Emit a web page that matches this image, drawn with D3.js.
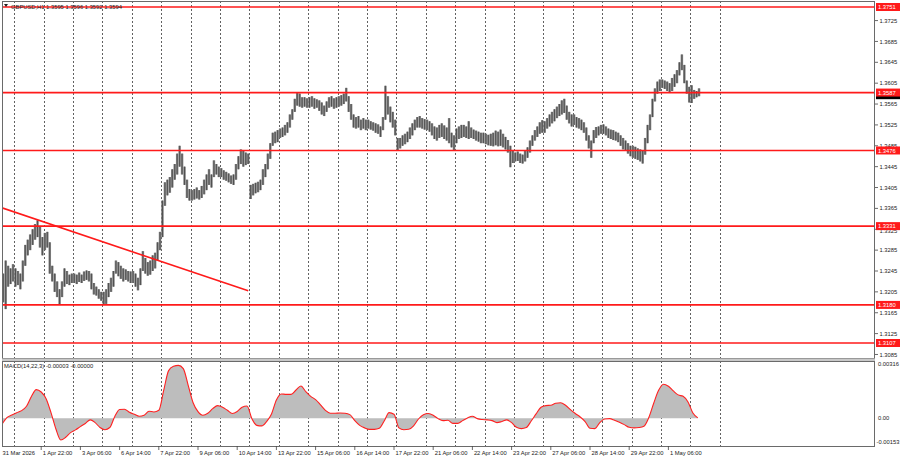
<!DOCTYPE html>
<html><head><meta charset="utf-8">
<script src="https://cdn.jsdelivr.net/npm/d3@7"></script>
<style>
html,body{margin:0;padding:0;background:#fff;}
svg{display:block;}
text{font-family:"Liberation Sans",Arial,sans-serif;}
</style>
</head><body>
<svg id="c" width="900" height="460"></svg>
<script>
// ---------- DATA ----------
const symbolTitle = "GBPUSD,H1  1.3595 1.3596 1.3592 1.3594";
const macdTitle = "MACD(14,22,3) -0.00003 -0.00000";
const levelPrices = [1.3751, 1.3587, 1.3476, 1.3331, 1.3180, 1.3107];
const priceTicks = [1.3725,1.3685,1.3645,1.3605,1.3565,1.3525,1.3485,1.3445,1.3405,1.3365,1.3325,1.3285,1.3245,1.3205,1.3165,1.3125,1.3085];
const macdTicks = [0.00316, 0.00, -0.00153];
const macdTickLabels = ["0.00316", "0.00", "-0.00153"];
const timeLabels = ["31 Mar 2026","1 Apr 22:00","3 Apr 06:00","6 Apr 14:00","7 Apr 22:00","9 Apr 06:00","10 Apr 14:00","13 Apr 22:00","15 Apr 06:00","16 Apr 14:00","17 Apr 22:00","21 Apr 06:00","22 Apr 14:00","23 Apr 22:00","27 Apr 06:00","28 Apr 14:00","29 Apr 22:00","1 May 06:00"];
const trendStart = [0, 1.3366];   // [trading hour, price]
const trendEnd = [201, 1.3207];
const lastPrice = 1.3582;

// 2-hour bars from 31 Mar 14:00 (lows / highs)
const lowPrices = [
 1.3185,1.3172,1.3215,1.3220,1.3225,
 1.3215,1.3218,1.3210,1.3225,1.3255,1.3275,1.3285,1.3295,1.3305,1.3310,1.3290,1.3275,
 1.3285,1.3290,1.3240,1.3225,1.3205,1.3195,1.3180,1.3195,1.3215,1.3220,1.3218,1.3222,
 1.3222,1.3220,1.3224,1.3222,1.3226,1.3228,1.3225,1.3210,1.3200,1.3198,1.3192,1.3188,
 1.3180,1.3182,1.3195,1.3205,1.3215,1.3240,1.3235,1.3230,1.3225,1.3228,1.3225,1.3222,
 1.3222,1.3215,1.3208,1.3218,1.3245,1.3240,1.3236,1.3238,1.3245,1.3250,1.3265,1.3285,
 1.3310,1.3370,1.3390,1.3395,1.3405,1.3420,1.3430,1.3445,1.3430,1.3410,1.3385,1.3380,
 1.3380,1.3382,1.3384,1.3382,1.3385,1.3392,1.3400,1.3410,1.3405,1.3425,1.3430,1.3425,
 1.3425,1.3420,1.3418,1.3415,1.3412,1.3410,1.3420,1.3440,1.3450,1.3445,1.3448,1.3450,
 1.3383,1.3390,1.3394,1.3396,1.3400,1.3410,1.3425,1.3440,1.3460,1.3485,1.3490,1.3492,
 1.3500,1.3502,1.3505,1.3510,1.3520,1.3535,1.3550,1.3562,1.3560,1.3558,1.3560,1.3558,
 1.3558,1.3560,1.3556,1.3558,1.3552,1.3545,1.3542,1.3550,1.3558,1.3560,1.3556,1.3558,
 1.3560,1.3562,1.3565,1.3570,1.3550,1.3535,1.3520,1.3518,1.3520,1.3515,1.3518,1.3515,
 1.3518,1.3516,1.3514,1.3510,1.3508,1.3502,1.3515,1.3535,1.3545,1.3530,1.3520,1.3505,
 1.3476,1.3480,1.3485,1.3488,1.3492,1.3498,1.3505,1.3515,1.3520,1.3520,1.3518,1.3516,
 1.3515,1.3512,1.3505,1.3498,1.3495,1.3500,1.3502,1.3498,1.3495,1.3490,1.3482,1.3476,
 1.3490,1.3498,1.3500,1.3502,1.3500,1.3498,1.3500,1.3498,1.3495,1.3493,1.3490,1.3490,
 1.3488,1.3486,1.3485,1.3484,1.3486,1.3484,1.3485,1.3482,1.3478,1.3472,1.3444,1.3452,
 1.3455,1.3456,1.3452,1.3451,1.3455,1.3462,1.3472,1.3485,1.3495,1.3502,1.3508,1.3510,
 1.3510,1.3518,1.3522,1.3528,1.3532,1.3538,1.3542,1.3545,1.3548,1.3535,1.3528,1.3522,
 1.3525,1.3520,1.3518,1.3515,1.3510,1.3495,1.3480,1.3462,1.3490,1.3500,1.3505,1.3508,
 1.3508,1.3505,1.3500,1.3498,1.3496,1.3495,1.3492,1.3485,1.3478,1.3475,1.3470,1.3465,
 1.3462,1.3460,1.3458,1.3455,1.3451,1.3468,1.3490,1.3515,1.3540,1.3570,1.3585,1.3590,
 1.3596,1.3594,1.3590,1.3588,1.3590,1.3598,1.3605,1.3620,1.3630,1.3605,1.3585,1.3568,
 1.3567,1.3575,1.3578,1.3580
];
const highPrices = [
 1.3240,1.3265,1.3255,1.3250,1.3258,
 1.3250,1.3245,1.3240,1.3265,1.3295,1.3305,1.3315,1.3325,1.3335,1.3342,1.3330,1.3310,
 1.3318,1.3320,1.3300,1.3255,1.3240,1.3225,1.3210,1.3225,1.3250,1.3245,1.3238,1.3240,
 1.3240,1.3238,1.3242,1.3238,1.3244,1.3246,1.3245,1.3240,1.3222,1.3215,1.3210,1.3205,
 1.3205,1.3210,1.3222,1.3232,1.3245,1.3265,1.3262,1.3255,1.3250,1.3248,1.3245,1.3244,
 1.3245,1.3240,1.3232,1.3250,1.3283,1.3270,1.3262,1.3265,1.3275,1.3280,1.3300,1.3320,
 1.3380,1.3415,1.3420,1.3425,1.3440,1.3450,1.3470,1.3485,1.3470,1.3445,1.3420,1.3402,
 1.3400,1.3402,1.3405,1.3400,1.3408,1.3420,1.3430,1.3440,1.3430,1.3457,1.3450,1.3445,
 1.3442,1.3438,1.3435,1.3432,1.3428,1.3430,1.3450,1.3465,1.3478,1.3475,1.3472,1.3470,
 1.3410,1.3412,1.3414,1.3416,1.3420,1.3440,1.3450,1.3470,1.3490,1.3510,1.3512,1.3515,
 1.3518,1.3520,1.3525,1.3530,1.3545,1.3555,1.3575,1.3587,1.3585,1.3578,1.3578,1.3576,
 1.3578,1.3580,1.3576,1.3574,1.3572,1.3568,1.3562,1.3570,1.3578,1.3580,1.3576,1.3578,
 1.3580,1.3582,1.3585,1.3596,1.3580,1.3565,1.3545,1.3540,1.3542,1.3535,1.3538,1.3535,
 1.3535,1.3532,1.3530,1.3528,1.3526,1.3522,1.3540,1.3600,1.3580,1.3560,1.3550,1.3535,
 1.3500,1.3500,1.3505,1.3508,1.3512,1.3520,1.3528,1.3535,1.3540,1.3542,1.3538,1.3536,
 1.3535,1.3532,1.3528,1.3522,1.3520,1.3525,1.3528,1.3524,1.3520,1.3538,1.3510,1.3505,
 1.3518,1.3522,1.3525,1.3525,1.3522,1.3532,1.3520,1.3516,1.3514,1.3512,1.3510,1.3510,
 1.3508,1.3506,1.3508,1.3510,1.3514,1.3512,1.3516,1.3508,1.3502,1.3496,1.3485,1.3475,
 1.3472,1.3474,1.3470,1.3468,1.3475,1.3482,1.3495,1.3505,1.3515,1.3522,1.3530,1.3534,
 1.3532,1.3538,1.3545,1.3550,1.3555,1.3560,1.3565,1.3572,1.3575,1.3562,1.3550,1.3545,
 1.3545,1.3540,1.3538,1.3535,1.3530,1.3520,1.3505,1.3495,1.3515,1.3521,1.3522,1.3525,
 1.3526,1.3522,1.3518,1.3516,1.3515,1.3512,1.3510,1.3505,1.3500,1.3495,1.3490,1.3485,
 1.3485,1.3483,1.3480,1.3478,1.3475,1.3500,1.3525,1.3545,1.3575,1.3595,1.3608,1.3612,
 1.3612,1.3610,1.3608,1.3605,1.3615,1.3622,1.3630,1.3645,1.3660,1.3640,1.3610,1.3598,
 1.3601,1.3592,1.3590,1.3595
];

// MACD histogram, one reading every 4 trading hours
const macdValues = [
 -0.00033, 0.00004, 0.00018, 0.00031, 0.00042, 0.00066, 0.00120, 0.00158, 0.00145, 0.00108,
 0.00031, -0.00059, -0.00120, -0.00105, -0.00079, -0.00064, -0.00046, -0.00029, -0.00009, -0.00024,
 -0.00051, -0.00063, -0.00051, 0.00009, 0.00048, 0.00050, 0.00033, 0.00022, 0.00011, 0.00017,
 0.00039, 0.00035, 0.00044, 0.00154, 0.00263, 0.00287, 0.00292, 0.00274, 0.00182, 0.00086,
 0.00037, 0.00017, 0.00028, 0.00053, 0.00070, 0.00061, 0.00044, 0.00026, 0.00037, 0.00061,
 0.00068, -0.00002, -0.00039, -0.00042, -0.00018, 0.00024, 0.00101, 0.00134, 0.00132, 0.00132,
 0.00156, 0.00178, 0.00147, 0.00121, 0.00103, 0.00074, 0.00044, 0.00028, 0.00028, 0.00029,
 0.00028, 0.00020, -0.00013, -0.00039, -0.00053, -0.00061, -0.00061, -0.00055, -0.00015, 0.00031,
 0.00022, -0.00053, -0.00063, -0.00061, -0.00042, -0.00004, 0.00020, 0.00026, 0.00017, -0.00002,
 -0.00013, -0.00011, -0.00028, -0.00028, -0.00013, 0.00002, 0.00011, -0.00002, -0.00007, -0.00009,
 -0.00013, -0.00024, -0.00018, -0.00009, -0.00024, -0.00050, -0.00057, -0.00051, -0.00015, 0.00024,
 0.00061, 0.00070, 0.00072, 0.00083, 0.00086, 0.00072, 0.00048, 0.00026, 0.00007, -0.00018,
 -0.00055, -0.00057, -0.00024, -0.00004, -0.00002, -0.00011, -0.00022, -0.00035, -0.00050, -0.00053,
 -0.00051, -0.00044, 0.00004, 0.00083, 0.00154, 0.00188, 0.00177, 0.00151, 0.00129, 0.00121,
 0.00090, 0.00029, 0.00002
];

// ---------- LAYOUT ----------
const svg = d3.select("#c");
const L = 2, R = 875;
const priceTop = 1, priceBottom = 358;
const macdTop = 361, macdBottom = 446;

const x = d3.scaleLinear().domain([0, 712.65]).range([L, R]);
const y = d3.scaleLinear().domain([1.3107, 1.3751]).range([343, 7]);
const ym = d3.scaleLinear().domain([-0.00153, 0.00316]).range([macdBottom, macdTop]);

svg.append("rect").attr("width", 900).attr("height", 460).attr("fill", "#fff");

const defs = svg.append("defs");
defs.append("clipPath").attr("id", "cp").append("rect")
  .attr("x", L).attr("y", priceTop).attr("width", R - L).attr("height", priceBottom - priceTop);
defs.append("clipPath").attr("id", "cm").append("rect")
  .attr("x", L).attr("y", macdTop).attr("width", R - L).attr("height", macdBottom - macdTop);

// day separators (trading day starts)
const dayStarts = d3.range(25).map(i => 10 + 24 * i);
const grid = svg.append("g").attr("stroke", "#3a3a3a").attr("stroke-width", 0.8)
  .attr("stroke-dasharray", "2,2").attr("shape-rendering", "crispEdges");
dayStarts.forEach(h => {
  const gx = Math.round(x(h)) + 0.5;
  grid.append("line").attr("x1", gx).attr("x2", gx).attr("y1", priceTop).attr("y2", priceBottom);
  grid.append("line").attr("x1", gx).attr("x2", gx).attr("y1", macdTop).attr("y2", macdBottom);
});

// price bars
const gp = svg.append("g").attr("clip-path", "url(#cp)");
const bars = lowPrices.map((lo, i) => ({ i, lo, hi: highPrices[i] }));
gp.selectAll("rect.bar").data(bars).join("rect").attr("class", "bar")
  .attr("x", d => x(2 * d.i + 1) - 1.25).attr("width", 2.5)
  .attr("y", d => y(d.hi)).attr("height", d => Math.max(1, y(d.lo) - y(d.hi)))
  .attr("fill", "#878787");
gp.selectAll("line.wick").data(bars).join("line").attr("class", "wick")
  .attr("x1", d => x(2 * d.i + 1)).attr("x2", d => x(2 * d.i + 1))
  .attr("y1", d => y(d.hi)).attr("y2", d => y(d.lo))
  .attr("stroke", "#505050").attr("stroke-width", 1);

// horizontal levels
levelPrices.forEach(p => {
  gp.append("line").attr("x1", L).attr("x2", R).attr("y1", y(p)).attr("y2", y(p))
    .attr("stroke", "#ff1a1a").attr("stroke-width", 1.7);
});
// trend line
gp.append("line")
  .attr("x1", x(trendStart[0])).attr("y1", y(trendStart[1]))
  .attr("x2", x(trendEnd[0])).attr("y2", y(trendEnd[1]))
  .attr("stroke", "#ff1a1a").attr("stroke-width", 1.6);

// MACD
const gm = svg.append("g").attr("clip-path", "url(#cm)");
const mdata = macdValues.map((v, k) => ({ h: 4 * k, v }));
gm.append("path").datum(mdata)
  .attr("d", d3.area().x(d => x(d.h)).y0(ym(0)).y1(d => ym(d.v)).curve(d3.curveMonotoneX))
  .attr("fill", "#bdbdbd");
gm.append("path").datum(mdata)
  .attr("d", d3.line().x(d => x(d.h)).y(d => ym(d.v)).curve(d3.curveMonotoneX))
  .attr("fill", "none").attr("stroke", "#ff2020").attr("stroke-width", 1.1);

// panel frames
svg.append("rect").attr("x", L + 0.5).attr("y", priceTop + 0.5).attr("width", R - L - 1).attr("height", priceBottom - priceTop)
  .attr("fill", "none").attr("stroke", "#6a6a6a").attr("stroke-width", 1).attr("shape-rendering", "crispEdges");
svg.append("rect").attr("x", L + 0.5).attr("y", macdTop + 0.5).attr("width", R - L - 1).attr("height", macdBottom - macdTop)
  .attr("fill", "none").attr("stroke", "#6a6a6a").attr("stroke-width", 1).attr("shape-rendering", "crispEdges");
svg.append("rect").attr("x", L).attr("y", priceBottom + 0.5).attr("width", R - L).attr("height", macdTop - priceBottom - 0.5)
  .attr("fill", "#c8c8c8");

const fs = 5.8;
const capH = 4.3;
// price axis ticks (labels nudged clear of the red level labels they sit under)
const ax = svg.append("g").attr("font-size", fs).attr("fill", "#222");
const levelBase = levelPrices.map(p => y(p) + 2.1);
priceTicks.forEach(p => {
  const py = y(p);
  let base = py + 2.1;
  levelBase.forEach(lb => {
    if (base > lb && base - capH < lb + 0.3) base = lb + capH + 0.4;
    else if (base <= lb && base > lb - capH - 0.3) base = lb - capH - 0.4;
  });
  ax.append("line").attr("x1", R).attr("x2", R + 3).attr("y1", py).attr("y2", py).attr("stroke", "#444").attr("stroke-width", 0.8);
  ax.append("text").attr("x", R + 4.5).attr("y", base).text(p.toFixed(4));
});
// last price (black) marker, mostly hidden behind the red level label
ax.append("rect").attr("x", R + 1).attr("y", y(lastPrice) - 4).attr("width", 24).attr("height", 8).attr("fill", "#000");
// red level labels
levelPrices.forEach(p => {
  const py = y(p);
  ax.append("rect").attr("x", R + 1).attr("y", py - 4).attr("width", 24).attr("height", 8).attr("fill", "#ff1a1a");
  ax.append("text").attr("x", R + 3).attr("y", py + 2.1).attr("fill", "#fff").text(p.toFixed(4));
});
// MACD axis
macdTicks.forEach((v, i) => {
  const vy = ym(v);
  const ty = i === 0 ? vy + 5 : (i === 2 ? vy - 2 : vy + 2.1);
  ax.append("text").attr("x", R + (v < 0 ? 1.5 : 3)).attr("y", ty).text(macdTickLabels[i]);
});

// time axis
const tx = svg.append("g").attr("font-size", fs).attr("fill", "#222");
timeLabels.forEach((lab, i) => {
  const h = 32 * i;
  const px = x(h);
  if (i > 0) tx.append("line").attr("x1", px).attr("x2", px).attr("y1", macdBottom).attr("y2", macdBottom + 4).attr("stroke", "#444").attr("stroke-width", 0.8);
  tx.append("text").attr("x", i === 0 ? px + 0.5 : px + 1.5).attr("y", 455).text(lab);
});

// titles
svg.append("path").attr("d", "M4,4 L8,4 L6,7 Z").attr("fill", "#222");
svg.append("text").attr("x", 11).attr("y", 8.5).attr("font-size", fs).attr("fill", "#222").text(symbolTitle);
svg.append("text").attr("x", 4).attr("y", 368).attr("font-size", fs).attr("fill", "#222").text(macdTitle);
</script>
</body></html>
